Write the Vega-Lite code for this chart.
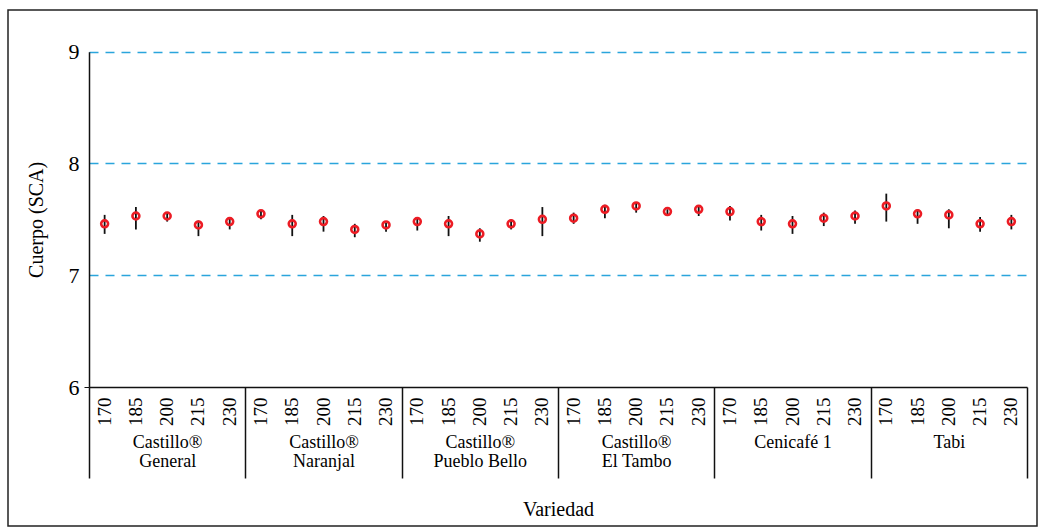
{
  "$schema": "https://vega.github.io/schema/vega-lite/v6.json",
  "width": 1029,
  "height": 516,
  "autosize": "none",
  "padding": {"left": 8, "top": 10, "right": 9, "bottom": 6},
  "background": "white",
  "config": {
    "view": {"stroke": "#222", "strokeWidth": 1.5},
    "font": "Liberation Serif",
    "style": {"guide-label": {"font": "Liberation Serif", "fill": "#000"}, "guide-title": {"font": "Liberation Serif", "fill": "#000", "fontWeight": "normal"}},
    "axis": {"labelFont": "Liberation Serif", "titleFont": "Liberation Serif", "labelColor": "#000", "titleColor": "#000", "titleFontWeight": "normal"}
  },
  "data": {
    "values": [
      {"variety": "Castillo® General", "dose": "170", "key": "Castillo® General|170", "mean": 7.46, "lo": 7.37, "hi": 7.54},
      {"variety": "Castillo® General", "dose": "185", "key": "Castillo® General|185", "mean": 7.53, "lo": 7.41, "hi": 7.61},
      {"variety": "Castillo® General", "dose": "200", "key": "Castillo® General|200", "mean": 7.53, "lo": 7.48, "hi": 7.56},
      {"variety": "Castillo® General", "dose": "215", "key": "Castillo® General|215", "mean": 7.45, "lo": 7.35, "hi": 7.49},
      {"variety": "Castillo® General", "dose": "230", "key": "Castillo® General|230", "mean": 7.48, "lo": 7.41, "hi": 7.51},
      {"variety": "Castillo® Naranjal", "dose": "170", "key": "Castillo® Naranjal|170", "mean": 7.55, "lo": 7.50, "hi": 7.58},
      {"variety": "Castillo® Naranjal", "dose": "185", "key": "Castillo® Naranjal|185", "mean": 7.46, "lo": 7.35, "hi": 7.54},
      {"variety": "Castillo® Naranjal", "dose": "200", "key": "Castillo® Naranjal|200", "mean": 7.48, "lo": 7.39, "hi": 7.53},
      {"variety": "Castillo® Naranjal", "dose": "215", "key": "Castillo® Naranjal|215", "mean": 7.41, "lo": 7.34, "hi": 7.46},
      {"variety": "Castillo® Naranjal", "dose": "230", "key": "Castillo® Naranjal|230", "mean": 7.45, "lo": 7.39, "hi": 7.47},
      {"variety": "Castillo® Pueblo Bello", "dose": "170", "key": "Castillo® Pueblo Bello|170", "mean": 7.48, "lo": 7.40, "hi": 7.52},
      {"variety": "Castillo® Pueblo Bello", "dose": "185", "key": "Castillo® Pueblo Bello|185", "mean": 7.46, "lo": 7.35, "hi": 7.53},
      {"variety": "Castillo® Pueblo Bello", "dose": "200", "key": "Castillo® Pueblo Bello|200", "mean": 7.37, "lo": 7.30, "hi": 7.42},
      {"variety": "Castillo® Pueblo Bello", "dose": "215", "key": "Castillo® Pueblo Bello|215", "mean": 7.46, "lo": 7.41, "hi": 7.50},
      {"variety": "Castillo® Pueblo Bello", "dose": "230", "key": "Castillo® Pueblo Bello|230", "mean": 7.50, "lo": 7.35, "hi": 7.61},
      {"variety": "Castillo® El Tambo", "dose": "170", "key": "Castillo® El Tambo|170", "mean": 7.51, "lo": 7.46, "hi": 7.56},
      {"variety": "Castillo® El Tambo", "dose": "185", "key": "Castillo® El Tambo|185", "mean": 7.59, "lo": 7.51, "hi": 7.63},
      {"variety": "Castillo® El Tambo", "dose": "200", "key": "Castillo® El Tambo|200", "mean": 7.62, "lo": 7.56, "hi": 7.65},
      {"variety": "Castillo® El Tambo", "dose": "215", "key": "Castillo® El Tambo|215", "mean": 7.57, "lo": 7.54, "hi": 7.59},
      {"variety": "Castillo® El Tambo", "dose": "230", "key": "Castillo® El Tambo|230", "mean": 7.59, "lo": 7.53, "hi": 7.62},
      {"variety": "Cenicafé 1", "dose": "170", "key": "Cenicafé 1|170", "mean": 7.57, "lo": 7.49, "hi": 7.62},
      {"variety": "Cenicafé 1", "dose": "185", "key": "Cenicafé 1|185", "mean": 7.48, "lo": 7.40, "hi": 7.54},
      {"variety": "Cenicafé 1", "dose": "200", "key": "Cenicafé 1|200", "mean": 7.46, "lo": 7.37, "hi": 7.53},
      {"variety": "Cenicafé 1", "dose": "215", "key": "Cenicafé 1|215", "mean": 7.51, "lo": 7.44, "hi": 7.56},
      {"variety": "Cenicafé 1", "dose": "230", "key": "Cenicafé 1|230", "mean": 7.53, "lo": 7.46, "hi": 7.58},
      {"variety": "Tabi", "dose": "170", "key": "Tabi|170", "mean": 7.62, "lo": 7.48, "hi": 7.73},
      {"variety": "Tabi", "dose": "185", "key": "Tabi|185", "mean": 7.55, "lo": 7.46, "hi": 7.59},
      {"variety": "Tabi", "dose": "200", "key": "Tabi|200", "mean": 7.54, "lo": 7.42, "hi": 7.59},
      {"variety": "Tabi", "dose": "215", "key": "Tabi|215", "mean": 7.46, "lo": 7.39, "hi": 7.52},
      {"variety": "Tabi", "dose": "230", "key": "Tabi|230", "mean": 7.48, "lo": 7.41, "hi": 7.54}
    ]
  },
  "layer": [
    {
      "layer": [
        {
          "mark": {"type": "rule", "color": "#111", "strokeWidth": 1.8},
          "encoding": {
            "x": {
              "field": "key", "type": "nominal", "sort": null,
              "scale": {"range": [81, 1019], "paddingInner": 0, "paddingOuter": 0},
              "axis": {
                "orient": "bottom", "offset": -139, "title": null,
                "labelFont": "Liberation Serif",
                "labelExpr": "isString(datum.value) ? split(datum.value, '|')[1] : ''",
                "labelAngle": -90, "labelFontSize": 19, "labelPadding": 10,
                "ticks": false, "tickSize": 0, "domain": true, "domainColor": "#111", "domainWidth": 1.5,
                "grid": false, "labelFlush": false, "labelOverlap": false
              }
            },
            "y": {
              "field": "lo", "type": "quantitative", "title": "Cuerpo (SCA)",
              "scale": {"domain": [6, 9], "range": [377, 41.7], "nice": false, "zero": false},
              "axis": {
                "title": "Cuerpo (SCA)", "titleFont": "Liberation Serif", "titleFontSize": 20, "titlePadding": 22,
                "labelFont": "Liberation Serif",
                "offset": -81, "values": [6, 7, 8, 9], "format": "d",
                "labelFontSize": 22, "labelPadding": 5,
                "tickSize": 5, "tickColor": "#111",
                "tickOpacity": {"condition": {"test": "datum.value == 6", "value": 1}, "value": 0},
                "grid": true, "gridDash": [9, 7], "gridColor": "#2aa5dc", "gridWidth": 1.3,
                "gridOpacity": {"condition": {"test": "datum.value == 6", "value": 0}, "value": 1},
                "domainColor": "#111", "domainWidth": 1.5
              }
            },
            "y2": {"field": "hi"}
          }
        },
        {
          "mark": {"type": "point", "filled": false, "color": "#ec1c24", "strokeWidth": 2.6, "size": 48, "opacity": 1},
          "encoding": {
            "x": {"field": "key", "type": "nominal", "sort": null},
            "y": {"field": "mean", "type": "quantitative", "title": "Cuerpo (SCA)"}
          }
        }
      ]
    },
    {
      "mark": {"type": "point", "opacity": 0},
      "encoding": {
        "x": {
          "field": "variety", "type": "nominal", "sort": null,
          "scale": {"range": [81, 1019], "paddingInner": 0, "paddingOuter": 0},
          "axis": {
            "orient": "bottom", "offset": -139, "title": "Variedad", "titleFont": "Liberation Serif", "titleFontSize": 20, "titlePadding": 21,
            "labelFont": "Liberation Serif",
            "labelExpr": "isString(datum.value) && indexof(datum.value, 'Castillo® ') == 0 ? ['Castillo®', substring(datum.value, 10)] : (isString(datum.value) ? datum.value : '')",
            "labelAngle": 0, "labelFontSize": 18, "labelLineHeight": 19, "labelPadding": -45,
            "tickBand": "extent", "tickSize": 91, "tickColor": "#111", "tickWidth": 1.5,
            "domain": false, "grid": false, "labelFlush": false, "labelOverlap": false
          }
        },
        "y": {"field": "mean", "type": "quantitative", "title": "Cuerpo (SCA)"}
      }
    }
  ],
  "resolve": {"scale": {"x": "independent"}}
}
